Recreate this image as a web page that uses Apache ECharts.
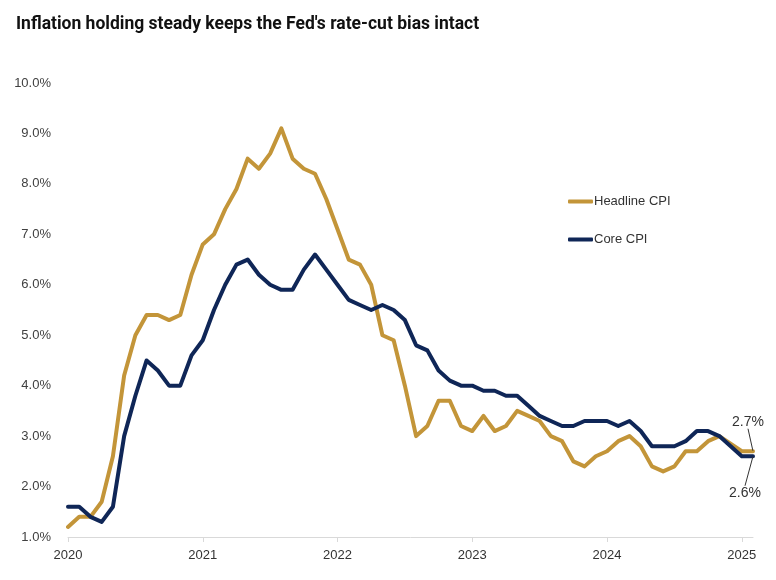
<!DOCTYPE html>
<html>
<head>
<meta charset="utf-8">
<script src="https://cdn.jsdelivr.net/npm/echarts@6/dist/echarts.min.js"></script>
<style>
html,body{margin:0;padding:0;background:#fff;}
#chart{width:776px;height:580px;}
</style>
</head>
<body>
<div id="chart"></div>
<script>
// Monthly categories, Nov 2020 .. Dec 2025 (Oct 2025 has no reading)
const months = [];
(function(){
  let y = 2020, m = 11;
  for (let i = 0; i < 62; i++) {
    months.push(y + '-' + String(m).padStart(2, '0'));
    m++; if (m > 12) { m = 1; y++; }
  }
})();

const headlineCPI = [1.2,1.4,1.4,1.7,2.6,4.2,5.0,5.4,5.4,5.3,5.4,6.2,6.8,7.0,7.5,7.9,8.5,8.3,8.6,9.1,8.5,8.3,8.2,7.7,7.1,6.5,6.4,6.0,5.0,4.9,4.0,3.0,3.2,3.7,3.7,3.2,3.1,3.4,3.1,3.2,3.5,3.4,3.3,3.0,2.9,2.5,2.4,2.6,2.7,2.9,3.0,2.8,2.4,2.3,2.4,2.7,2.7,2.9,3.0,null,2.7,2.7];
const coreCPI = [1.6,1.6,1.4,1.3,1.6,3.0,3.8,4.5,4.3,4.0,4.0,4.6,4.9,5.5,6.0,6.4,6.5,6.2,6.0,5.9,5.9,6.3,6.6,6.3,6.0,5.7,5.6,5.5,5.6,5.5,5.3,4.8,4.7,4.3,4.1,4.0,4.0,3.9,3.9,3.8,3.8,3.6,3.4,3.3,3.2,3.2,3.3,3.3,3.3,3.2,3.3,3.1,2.8,2.8,2.8,2.9,3.1,3.1,3.0,null,2.6,2.6];
const yTicks = [1,2,3,4,5,6,7,8,9,10];

const GOLD = '#C39539';
const NAVY = '#0F2657';
const last = months.length - 1;

function withEndLabel(arr, color) {
  return arr.map(function(v, i){
    if (i === last) {
      return {
        value: v,
        symbol: 'circle', symbolSize: 1,
        itemStyle: { color: color },
        label: { show: true, formatter: function(p){ return Number(p.value).toFixed(1) + '%'; } },
        labelLine: { show: true }
      };
    }
    return v;
  });
}

const chart = echarts.init(document.getElementById('chart'));
chart.setOption({
  backgroundColor: '#ffffff',
  animation: false,
  title: {
    text: "Inflation holding steady keeps the Fed's rate-cut bias intact",
    left: 11, top: 11,
    textStyle: { fontFamily: 'Roboto', fontWeight: 'bold', fontSize: 17.5, color: '#111' }
  },
  legend: {
    orient: 'vertical',
    left: 563, top: 190,
    itemGap: 25,
    itemWidth: 25, itemHeight: 4,
    icon: 'roundRect',
    textStyle: { fontFamily: 'Liberation Sans', fontSize: 13, color: '#333', padding: [0,0,0,-4] },
    data: ['Headline CPI', 'Core CPI']
  },
  grid: { left: 68, right: 23, top: 83, bottom: 43 },
  xAxis: {
    type: 'category',
    data: months,
    boundaryGap: false,
    axisLine: { lineStyle: { color: '#d9d9d9', width: 1 } },
    axisTick: { show: true, interval: 11, length: 5, lineStyle: { color: '#d9d9d9' } },
    axisLabel: {
      interval: 11, margin: 12,
      fontFamily: 'Liberation Sans', fontSize: 13, color: '#333',
      formatter: function(v){ return v.slice(0, 4); }
    },
    splitLine: { show: false }
  },
  yAxis: {
    type: 'value',
    min: yTicks[0], max: yTicks[yTicks.length - 1], interval: 1,
    axisLine: { show: false },
    axisTick: { show: false },
    splitLine: { show: false },
    axisLabel: {
      margin: 17,
      fontFamily: 'Liberation Sans', fontSize: 13, color: '#404040',
      formatter: function(v){ return v.toFixed(1) + '%'; }
    }
  },
  series: [
    {
      name: 'Headline CPI', type: 'line', data: withEndLabel(headlineCPI, GOLD),
      connectNulls: true, symbol: 'none', showSymbol: true, showAllSymbol: true, z: 2,
      color: GOLD,
      lineStyle: { color: GOLD, width: 4, cap: 'round', join: 'round' },
      label: { fontFamily: 'Liberation Sans', fontSize: 14, color: '#333', position: 'top' },
      labelLine: { lineStyle: { color: '#333', width: 1 } },
      labelLayout: function(p){ return p.dataIndex === last ? { dx: -5, dy: -17 } : {}; }
    },
    {
      name: 'Core CPI', type: 'line', data: withEndLabel(coreCPI, NAVY),
      connectNulls: true, symbol: 'none', showSymbol: true, showAllSymbol: true, z: 3,
      color: NAVY,
      lineStyle: { color: NAVY, width: 4, cap: 'round', join: 'round' },
      label: { fontFamily: 'Liberation Sans', fontSize: 14, color: '#333', position: 'bottom' },
      labelLine: { lineStyle: { color: '#333', width: 1 } },
      labelLayout: function(p){ return p.dataIndex === last ? { dx: -8, dy: 24 } : {}; }
    }
  ]
});
</script>
</body>
</html>
